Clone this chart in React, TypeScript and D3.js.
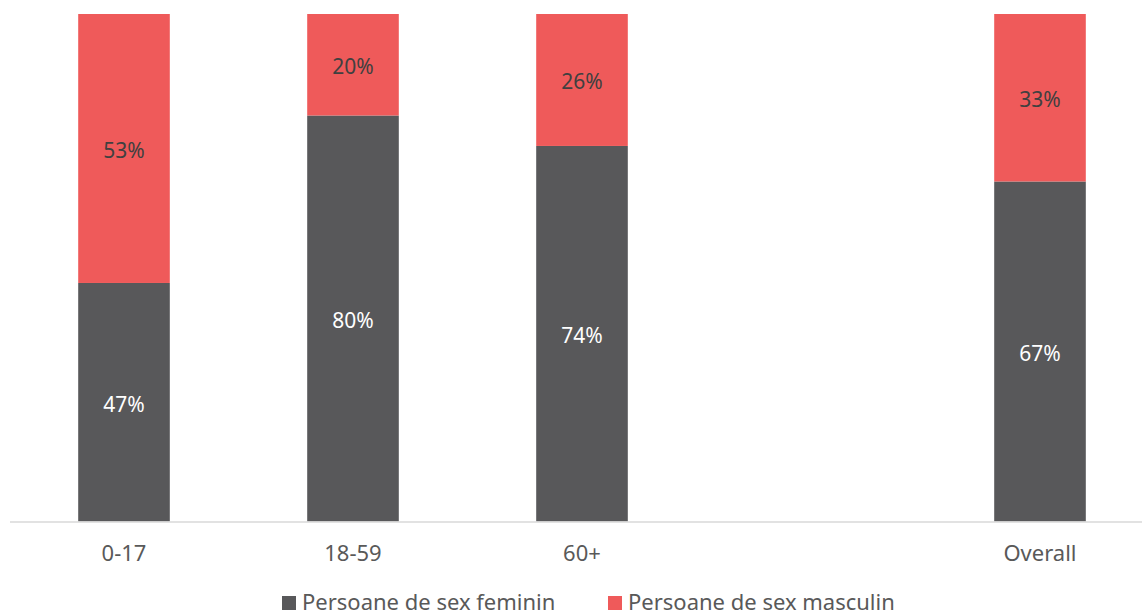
import React from "react";
import * as d3 from "d3";

const categories = ["0-17", "18-59", "60+", "", "Overall"];
const feminin = [47, 80, 74, null, 67];
const masculin = [53, 20, 26, null, 33];
const seriesNames = ["Persoane de sex feminin", "Persoane de sex masculin"];
const colors = ["#58585A", "#EF5A5A"];

export default function App() {
  const W = 1142, H = 616;
  const keys = categories.map((c, i) => c || "_" + i);
  const x = d3.scaleBand<string>().domain(keys).range([9.5, 9.5 + 229 * 5]).paddingInner(0.6).paddingOuter(0.3);
  const y = d3.scaleLinear().domain([0, 100]).range([521.5, 14]);
  const font = "'Noto Sans', 'Open Sans', sans-serif";
  return (
    <svg width={W} height={H} style={{ position: "absolute", left: 0, top: 0 }} fontFamily={font}>
      {keys.map((k, i) => {
        const f = feminin[i], m = masculin[i];
        if (f == null || m == null) return null;
        const bx = x(k)!, bw = x.bandwidth();
        return (
          <g key={k}>
            <rect x={bx} y={y(f)} width={bw} height={y(0) - y(f)} fill={colors[0]} />
            <rect x={bx} y={y(f + m)} width={bw} height={y(f) - y(f + m)} fill={colors[1]} />
            <text x={bx + bw / 2} y={(y(0) + y(f)) / 2} dy="0.45em" textAnchor="middle" fontSize={21} fill="#ffffff">{f}%</text>
            <text x={bx + bw / 2} y={(y(f) + y(f + m)) / 2} dy="0.45em" textAnchor="middle" fontSize={21} fill="#404040">{m}%</text>
          </g>
        );
      })}
      <line x1={10} x2={W} y1={522} y2={522} stroke="#D9D9D9" strokeWidth={1.5} />
      {keys.map((k, i) => (
        <text key={"t" + k} x={x(k)! + x.bandwidth() / 2} y={561} textAnchor="middle" fontSize={22} fill="#595959">{categories[i]}</text>
      ))}
      {seriesNames.map((s, i) => {
        const lx = [282, 608][i];
        return (
          <g key={s}>
            <rect x={lx} y={596} width={14} height={14} fill={colors[i]} />
            <text x={lx + 20} y={609.5} fontSize={22} fill="#595959">{s}</text>
          </g>
        );
      })}
    </svg>
  );
}
